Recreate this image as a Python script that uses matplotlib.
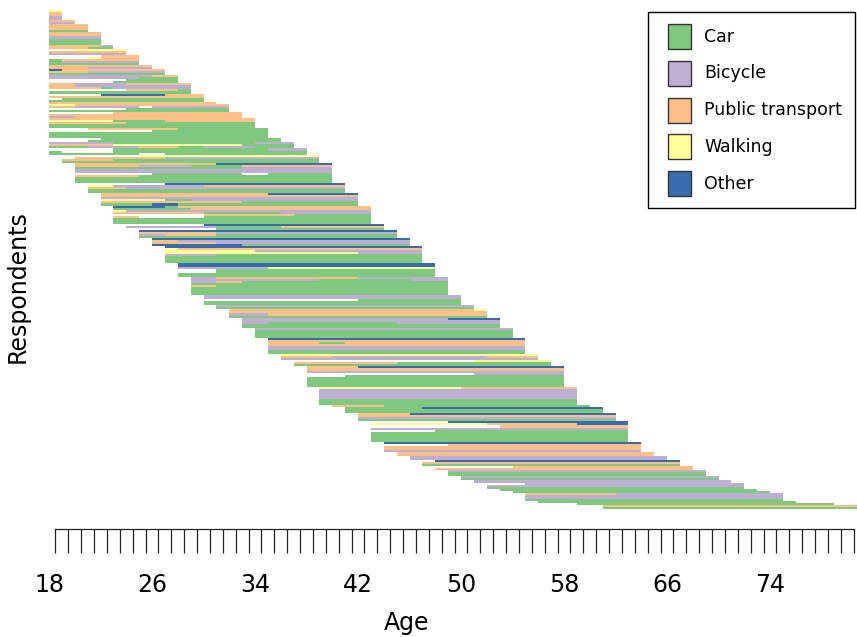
import matplotlib.pyplot as plt
from matplotlib.patches import Rectangle

state_codes = ["C", "B", "P", "W", "O"]
state_labels = ["Car", "Bicycle", "Public transport", "Walking", "Other"]
state_colors = ["#7FC97F", "#BEAED4", "#FDC086", "#FFFF99", "#386CB0"]

# one entry per respondent, top to bottom, sorted by last observed age
# "last age: runs"  (run = state code + years, '.' = missing year, '*n' = n identical respondents)
sequences = [
    "18: W1", "18: P1", "18: P1", "18: B1", "18: B1",
    "19: P2", "19: B2",
    "20: P3 *3", "20: C3",
    "21: P4 *2", "21: B4", "21: C4 *3",
    "22: P4 B1", "22: P3 C2",
    "23: .2 W4", "23: P6", "23: B6",
    "24: .4 P3", "24: .3 W1 P3", "24: C1 P6", "24: C1 B6", "24: C7",
    "25: P8", "25: P3 B5",
    "26: O1 P8", "26: P3 B6", "26: C9",
    "27: B8 P2", "27: B7 C3", "27: .6 C4", "27: .5 C5",
    "28: P2 B4 P5", "28: P2 B9", "28: P4 C1 B6", "28: .6 P4 C1", "28: C11",
    "29: .4 O5 P3", "29: P12", "29: .1 C11", "29: C12",
    "30: P13",
    "31: W2 P12", "31: P2 B5 .1 B6", "31: .6 C8", "31: C14",
    "32: .5 P10", "32: P15", "32: B2 P13",
    "33: P16", "33: W5 C4 P7", "33: P6 C10", "33: C16 *2",
    "34: .3 P7 C7", "34: .8 C9", "34: C17 *3",
    "35: .4 C14", "35: .3 C15",
    "36: B5 C11 B3", "36: P5 W10 C4", "36: C3 B4 P3 C2 B4 C3",
    "37: .5 C12 B3", "37: C1 .4 C15", "37: C7 .2 C11",
    "38: .6 W14", "38: .1 P7 B12", "38: P4 C16", "38: C20",
    "39: P11 O9", "39: P5 B4 C4 P7", "39: C13 B7", "39: B20 *2", "39: .6 C7 .2 C5",
    "39: P5 C15", "39: C20 *3",
    "40: .6 O14", "40: W2 B7 P11", "40: P3 B17", "40: C20 *2",
    "41: P13 O7", "41: P20", "41: B20", "41: W5 C2 B13", "41: P11 C9", "41: C4 O2 C14",
    "42: O4 C1 P15", "42: C6 P14", "42: W1 B19", "42: P7 C6 B7", "42: .7 P7 C6",
    "42: P2 .5 C13", "42: C20 *3",
    "43: .6 O14", "43: B7 C5 P8", "43: .7 C13",
    "44: O20", "44: P6 B14", "44: B2 P4 C14", "44: C20",
    "45: O20", "45: P2 B18", "45: P5 B15", "45: O7 C13",
    "46: O20", "46: W1 P19", "46: W7 B13", "46: W15 B5", "46: B4 C16", "46: C20 *3",
    "47: O20 *2", "47: B7 W13", "47: .3 C17 *2", "47: C20 *2",
    "48: B2 P11 B7", "48: B10 C7 B3", "48: B2 P2 C16", "48: C20", "48: P2 C18", "48: C20 *4",
    "49: B20 *2", "49: .12 C8", "49: C20 *2",
    "50: B20", "50: C20",
    "51: P19 W1", "51: P20", "51: B3 P17", "51: C20",
    "52: B16 O4", "52: B20", "52: B2 C10 B8", "52: C20 *2",
    "53: B20", "53: C20 *4",
    "54: O20", "54: P20", "54: P4 C2 P14", "54: P20", "54: B20 *2", "54: C20 *2",
    "55: W20", "55: P4 B12 P4", "55: B20",
    "56: .14 W6", "56: P8 C12", "56: C20",
    "57: P4 O16", "57: P20", "57: B20", "57: .13 B7", "57: .3 C17", "57: C20 *5",
    "58: W11 P9", "58: B20 *5", "58: C20 *3",
    "59: P4 C16",
    "60: C6 O14", "60: C20 *2",
    "61: P4 O16", "61: P20", "61: B20", "61: C20",
    "62: .6 O14", "62: W9 P7 O4", "62: .10 P10", "62: B20", "62: .5 C15", "62: C20 *5",
    "63: O20", "63: .5 P15", "63: P20 *2", "63: B20",
    "64: P20 *2",
    "65: B20 *2",
    "66: .1 O19", "66: P20", "66: C20",
    "67: .6 P14", "67: P20",
    "68: B20", "68: C20 *2",
    "69: B20", "69: C20",
    "70: B20",
    "71: .3 B17", "71: B20", "71: C20",
    "72: C20",
    "73: C20",
    "74: P7 B13", "74: B20 *2", "74: C20",
    "75: C20",
    "78: C20",
    "80: P20", "80: C20",
]

age_ticks = list(range(18, 81))
age_labels = [18, 26, 34, 42, 50, 58, 66, 74]

# expand the sequences into horizontal bar pieces per state
spans = {c: ([], [], []) for c in state_codes}
row = 0
for item in sequences:
    last, runs = item.split(":")
    tokens = runs.split()
    repeat = 1
    if tokens[-1].startswith("*"):
        repeat = int(tokens.pop()[1:])
    runs_parsed = [(t[0], int(t[1:])) for t in tokens]
    first = int(last) - sum(n for _, n in runs_parsed) + 1
    for _ in range(repeat):
        age = first
        for code, n in runs_parsed:
            if code != ".":
                ys, lefts, widths = spans[code]
                ys.append(row)
                lefts.append(age)
                widths.append(n)
            age += n
        row += 1
n_rows = row

W, H = 857, 637
fig = plt.figure(figsize=(W / 100, H / 100), dpi=100)
ax = fig.add_axes([49 / W, 128 / H, 808 / W, 499 / H])

for code, color in zip(state_codes, state_colors):
    ys, lefts, widths = spans[code]
    ax.barh(ys, widths, left=lefts, height=1, align="edge", color=color,
            linewidth=0, antialiased=False)

ax.set_xlim(18, 18 + 808 / 12.875)
ax.set_ylim(n_rows, 0)

for side in ["top", "right", "left"]:
    ax.spines[side].set_visible(False)
ax.spines["bottom"].set_position(("outward", 14.4))
ax.spines["bottom"].set_bounds(18.5, 80.5)
ax.spines["bottom"].set_linewidth(0.9)
ax.spines["bottom"].set_color("#222222")

ax.set_yticks([])
ax.set_xticks([a + 0.5 for a in age_ticks], minor=True)
ax.set_xticks(age_labels)
ax.set_xticklabels([str(a) for a in age_labels])
ax.tick_params(axis="x", which="minor", length=17.5, width=0.9, color="#222222", direction="out")
ax.tick_params(axis="x", which="major", length=0, pad=32, labelsize=17)

fig.text(407 / W, (H - 630) / H, "Age", fontsize=17, ha="center", va="baseline")
fig.text(18 / W, 1 - 287 / H, "Respondents", fontsize=17, rotation=90,
         ha="center", va="center")


# legend drawn by hand so the box matches the reference proportions
def fig_box(x0, y0, x1, y1):
    return (x0 / W, 1 - y1 / H), (x1 - x0) / W, (y1 - y0) / H


xy, w, h = fig_box(648, 12, 855, 208)
fig.add_artist(Rectangle(xy, w, h, transform=fig.transFigure, facecolor="white",
                         edgecolor="black", linewidth=1))
for i, (color, label) in enumerate(zip(state_colors, state_labels)):
    top = 24.3 + 36.7 * i
    xy, w, h = fig_box(668, top, 691, top + 25)
    fig.add_artist(Rectangle(xy, w, h, transform=fig.transFigure, facecolor=color,
                             edgecolor="#333333", linewidth=1))
    fig.text(704 / W, 1 - (top + 12.5) / H, label, fontsize=12.5, ha="left", va="center")

fig.savefig("out.png", dpi=100)
